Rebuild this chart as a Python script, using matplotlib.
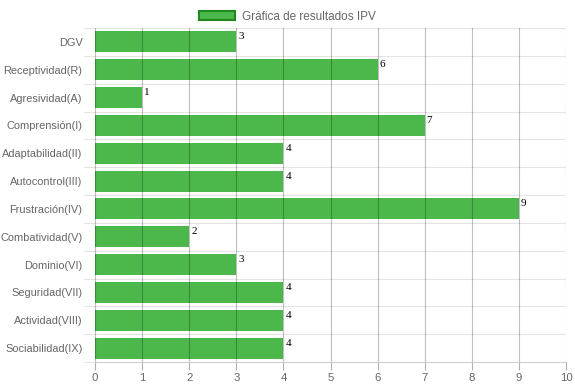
import matplotlib.pyplot as plt
import numpy as np
from matplotlib.patches import Patch

categories = ["DGV", "Receptividad(R)", "Agresividad(A)", "Comprensión(I)",
              "Adaptabilidad(II)", "Autocontrol(III)", "Frustración(IV)",
              "Combatividad(V)", "Dominio(VI)", "Seguridad(VII)",
              "Actividad(VIII)", "Sociabilidad(IX)"]
values = [3, 6, 1, 7, 4, 4, 9, 2, 3, 4, 4, 4]
x_ticks = list(range(0, 11))
legend_label = "Gráfica de resultados IPV"

bar_color = "#4CB84C"
edge_color = "#1E8A1E"
text_color = "#666666"

plt.rcParams['font.family'] = ['Liberation Sans', 'DejaVu Sans']

fig = plt.figure(figsize=(5.75, 3.87), dpi=100)
ax = fig.add_axes([95 / 575, 1 - 362 / 387, (566 - 95) / 575, (362 - 28) / 387])

y = np.arange(len(categories))
ax.barh(y, values, height=0.76, color=bar_color, zorder=2)

for yi, v in zip(y, values):
    ax.text(v + 0.04, yi - 0.34, str(v), family='Liberation Serif', fontsize=8,
            color='black', ha='left', va='top', zorder=4)

ax.set_xlim(0, 10)
ax.set_ylim(len(categories) - 0.5, -0.5)
ax.set_xticks(x_ticks)
ax.set_xticklabels([str(t) for t in x_ticks], fontsize=8.2, color=text_color)
ax.set_yticks(y)
ax.set_yticklabels(categories, fontsize=7.9, color=text_color)
ax.set_yticks(np.arange(-0.5, len(categories), 1.0), minor=True)

# vertical grid lines, drawn over the bars
for t in x_ticks:
    ax.axvline(t, color="black", alpha=0.25, lw=0.8, zorder=3)
# horizontal grid lines between categories (lighter)
for b in np.arange(-0.5, len(categories), 1.0):
    ax.axhline(b, color="#e4e4e4", lw=0.8, zorder=1)

ax.tick_params(axis='x', length=6, width=0.8, color="#b0b0b0", pad=2)
ax.tick_params(axis='y', which='major', length=0, pad=9)
ax.tick_params(axis='y', which='minor', length=8, width=0.8, color="#e4e4e4")
for s in ax.spines.values():
    s.set_visible(False)
ax.spines['bottom'].set_visible(True)
ax.spines['bottom'].set_color("#d0d0d0")

handle = Patch(facecolor=bar_color, edgecolor=edge_color, linewidth=1.5)
fig.legend([handle], [legend_label], loc='upper center', bbox_to_anchor=(0.5, 1.0),
           frameon=False, fontsize=8.5, labelcolor=text_color,
           handlelength=3.0, handleheight=0.9, handletextpad=0.6)

fig.savefig("out.png", dpi=100)
